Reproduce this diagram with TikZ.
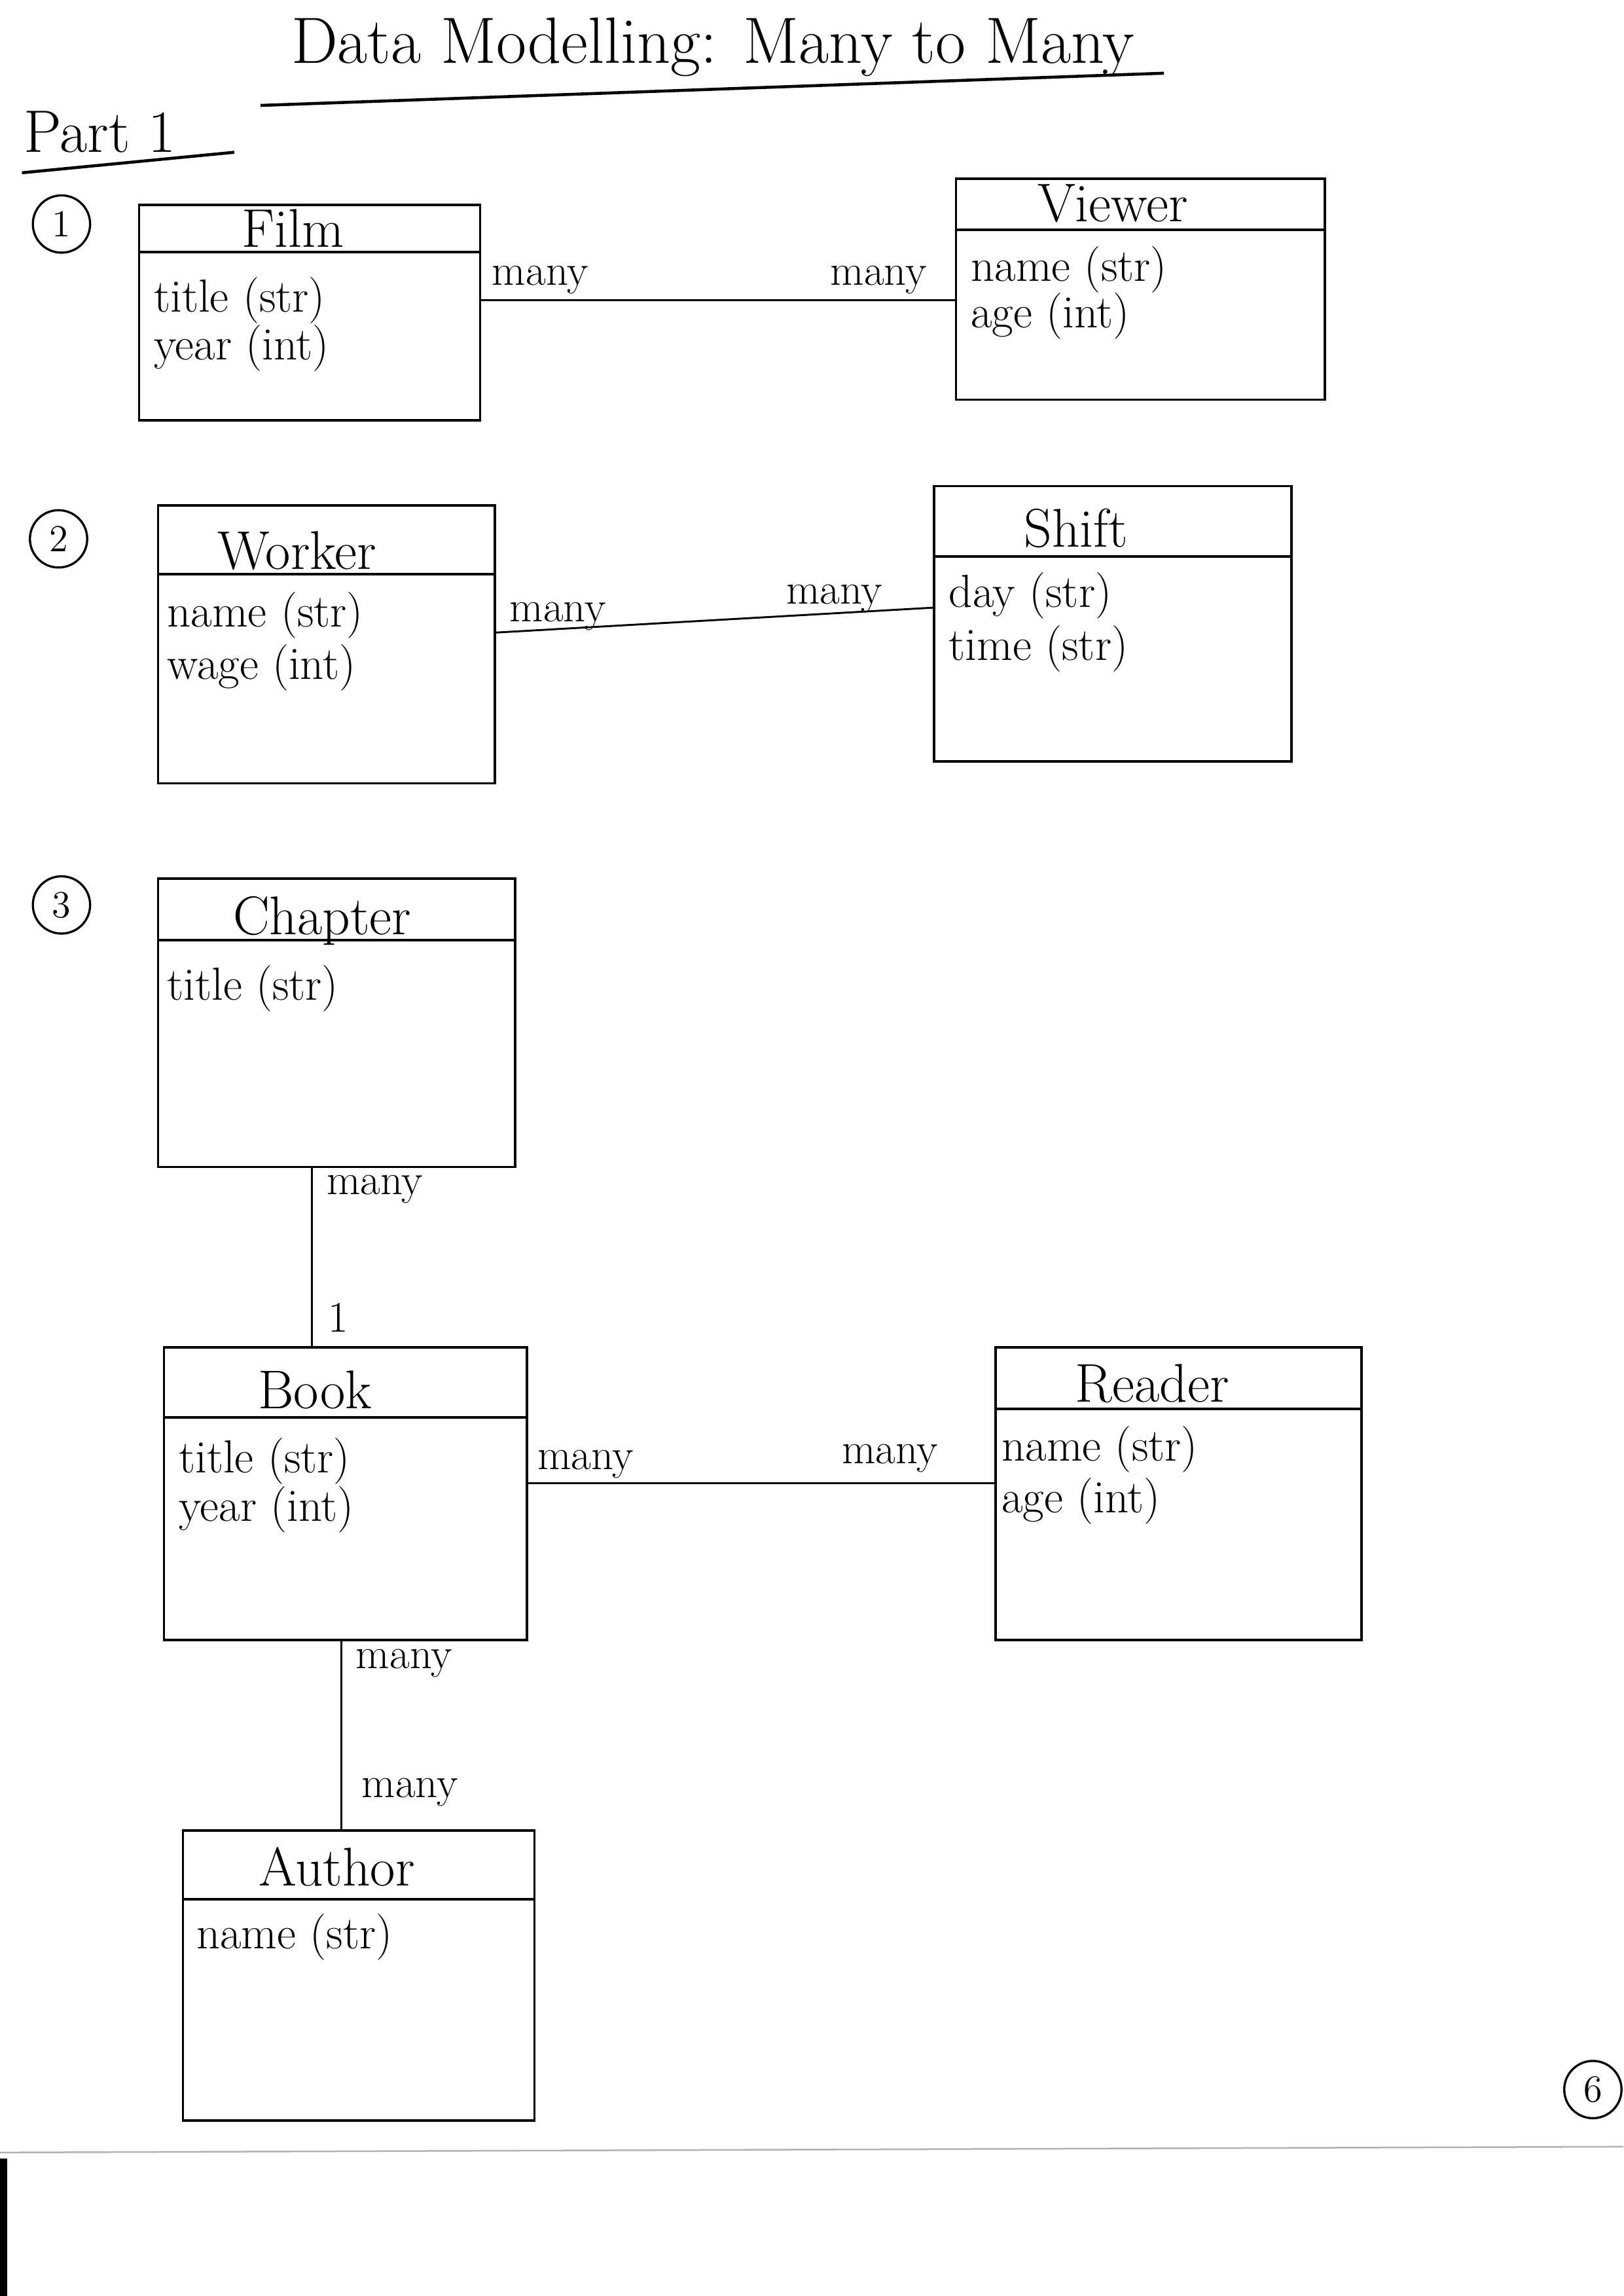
\documentclass[tikz,border=0pt]{standalone}
\usetikzlibrary{fit}
\begin{document}
\begin{tikzpicture}[x=0.5368pt,y=-0.5368pt,
  cls/.style={draw, line width=0.9pt, inner sep=0pt},
  divider/.style={line width=0.9pt},
  conn/.style={line width=0.7pt},
  ttl/.style={font=\fontsize{20}{24}\selectfont, inner sep=1pt},
  attr/.style={font=\fontsize{17}{20}\selectfont, anchor=west, inner sep=1pt},
  mult/.style={font=\fontsize{16}{19}\selectfont, inner sep=1pt},
  circ/.style={draw, circle, line width=0.8pt, minimum size=21pt, inner sep=0pt, font=\fontsize{14}{16}\selectfont},
  heading/.style={font=\fontsize{24}{28}\selectfont, inner sep=1pt},
  uline/.style={line width=1.1pt}
]
\fill[white] (0,0) rectangle (1109,1568);
\useasboundingbox (0,0) rectangle (1109,1568);

% title
\node[heading] (title) at (487,32) {Data Modelling: Many to Many};
\coordinate (tl1) at (178,72);
\coordinate (tl2) at (795,50);
\draw[uline] (tl1) -- (tl2);
\node[font=\fontsize{22}{26}\selectfont, anchor=west, inner sep=1pt] (part) at (14,90) {Part 1};
\coordinate (pl1) at (15,118);
\coordinate (pl2) at (160,104);
\draw[uline] (pl1) -- (pl2);

% circled numbers
\node[circ] (n1) at (42,153) {1};
\node[circ] (n2) at (40,368) {2};
\node[circ] (n3) at (42,618) {3};
\node[circ] (n6) at (1088,1427) {6};

% ---------- 1: Film -- Viewer
\node[cls, fit={(95,140) (328,287)}] (film) {};
\draw[divider] (film.west |- 0,172) -- (film.east |- 0,172);
\node[ttl] (filmT) at (200,156) {Film};
\node[attr] (filmA1) at (103,205) {title (str)};
\node[attr] (filmA2) at (103,238) {year (int)};

\node[cls, fit={(653,122) (905,273)}] (viewer) {};
\draw[divider] (viewer.west |- 0,157) -- (viewer.east |- 0,157);
\node[ttl] (viewerT) at (760,139) {Viewer};
\node[attr] (viewerA1) at (661,184) {name (str)};
\node[attr] (viewerA2) at (661,216) {age (int)};

\draw[conn] (film.east |- 0,205) -- (viewer.west |- 0,205);
\node[mult] (m1a) at (369,191) {many};
\node[mult] (m1b) at (600,191) {many};

% ---------- 2: Worker -- Shift
\node[cls, fit={(108,345) (338,535)}] (worker) {};
\draw[divider] (worker.west |- 0,392) -- (worker.east |- 0,392);
\node[ttl] (workerT) at (203,376) {Worker};
\node[attr] (workerA1) at (112,420) {name (str)};
\node[attr] (workerA2) at (112,456) {wage (int)};

\node[cls, fit={(638,332) (882,520)}] (shift) {};
\draw[divider] (shift.west |- 0,380) -- (shift.east |- 0,380);
\node[ttl] (shiftT) at (735,361) {Shift};
\node[attr] (shiftA1) at (646,407) {day (str)};
\node[attr] (shiftA2) at (646,443) {time (str)};

\draw[conn] (worker.east |- 0,432) -- (shift.west |- 0,415);
\node[mult] (m2a) at (381,421) {many};
\node[mult] (m2b) at (570,409) {many};

% ---------- 3: Chapter / Book / Reader / Author
\node[cls, fit={(108,600) (352,797)}] (chapter) {};
\draw[divider] (chapter.west |- 0,642) -- (chapter.east |- 0,642);
\node[ttl] (chapterT) at (220,629) {Chapter};
\node[attr] (chapterA1) at (112,675) {title (str)};

\node[cls, fit={(112,920) (360,1120)}] (book) {};
\draw[divider] (book.west |- 0,968) -- (book.east |- 0,968);
\node[ttl] (bookT) at (215,949) {Book};
\node[attr] (bookA1) at (120,998) {title (str)};
\node[attr] (bookA2) at (120,1031) {year (int)};

\node[cls, fit={(680,920) (930,1120)}] (reader) {};
\draw[divider] (reader.west |- 0,962) -- (reader.east |- 0,962);
\node[ttl] (readerT) at (787,945) {Reader};
\node[attr] (readerA1) at (682,990) {name (str)};
\node[attr] (readerA2) at (682,1025) {age (int)};

\node[cls, fit={(125,1250) (365,1448)}] (author) {};
\draw[divider] (author.west |- 0,1297) -- (author.east |- 0,1297);
\node[ttl] (authorT) at (230,1275) {Author};
\node[attr] (authorA1) at (132,1323) {name (str)};

\draw[conn] (chapter.south -| 213,0) -- (book.north -| 213,0);
\node[mult] (m3a) at (256,812) {many};
\node[mult] (m3b) at (231,900) {1};

\draw[conn] (book.east |- 0,1013) -- (reader.west |- 0,1013);
\node[mult] (m4a) at (400,1000) {many};
\node[mult] (m4b) at (608,996) {many};

\draw[conn] (book.south -| 233,0) -- (author.north -| 233,0);
\node[mult] (m5a) at (276,1136) {many};
\node[mult] (m5b) at (280,1224) {many};

% scan edge
\draw[gray!60, line width=0.6pt] (0,1470) -- (1109,1466);
\fill[black] (0,1474) rectangle (5,1568);
\end{tikzpicture}
\end{document}
